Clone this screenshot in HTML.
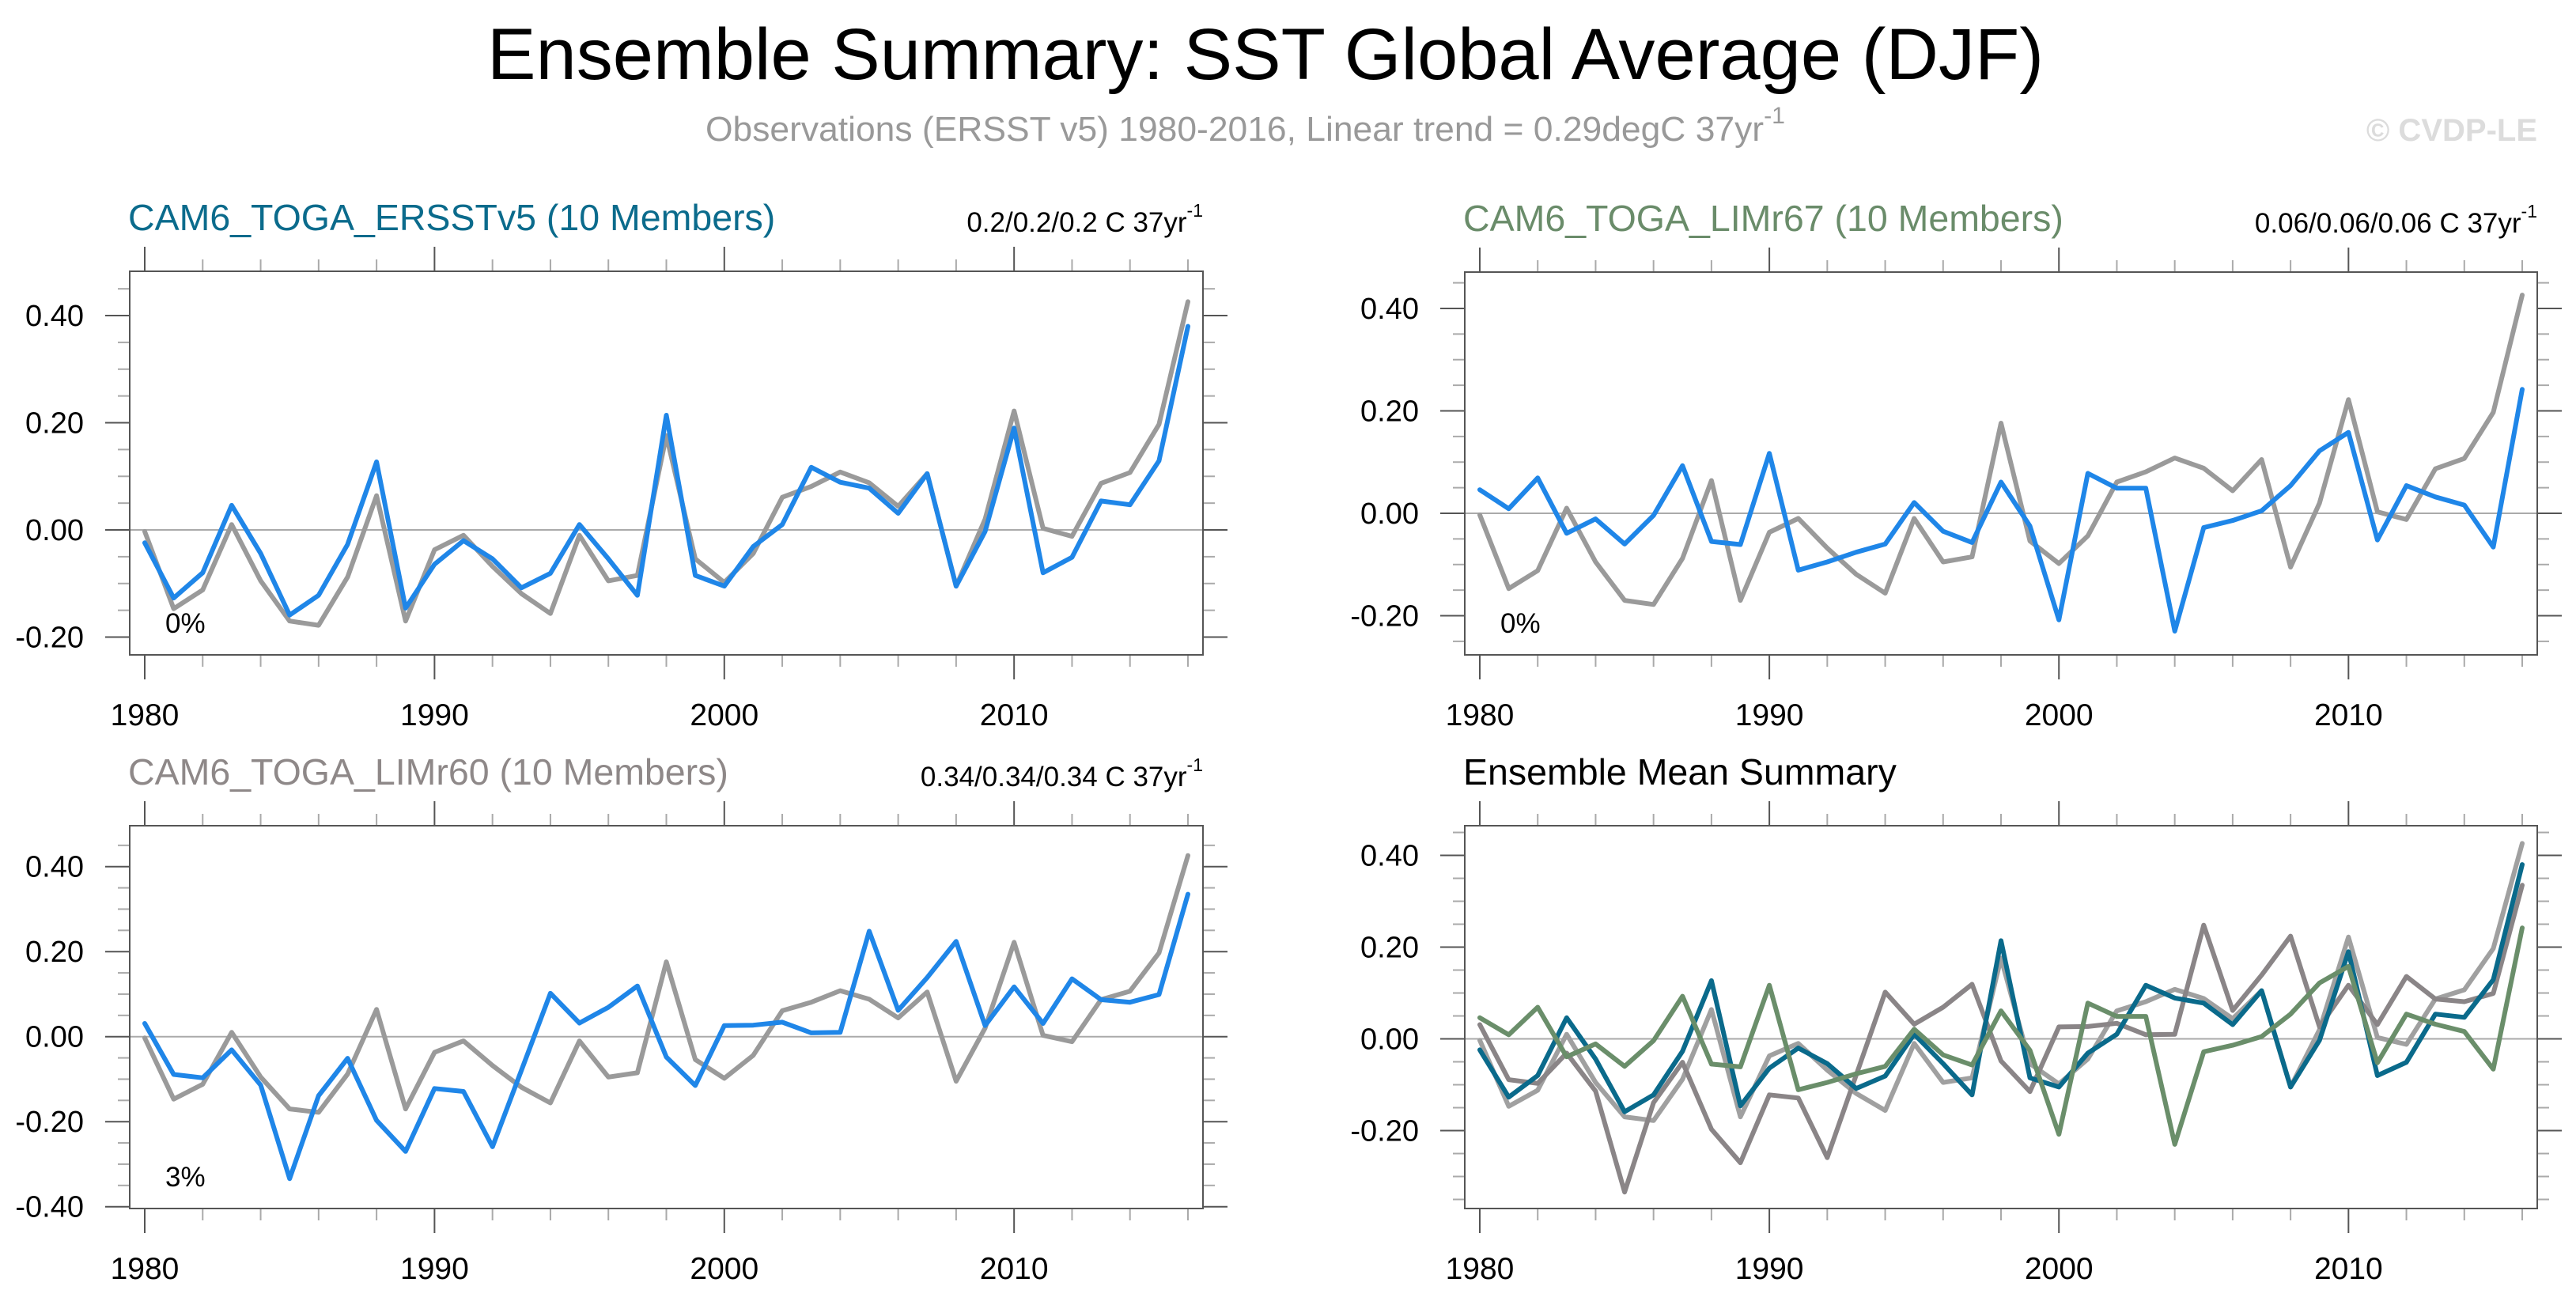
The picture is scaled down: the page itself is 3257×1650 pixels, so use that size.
<!DOCTYPE html>
<html><head><meta charset="utf-8"><title>Ensemble Summary: SST Global Average (DJF)</title>
<style>
html,body{margin:0;padding:0;background:#fff;}
svg{display:block;font-family:"Liberation Sans",sans-serif;}
</style></head>
<body>
<svg id="chart" xmlns="http://www.w3.org/2000/svg" width="3257" height="1650" viewBox="0 0 3257 1650">
  <text x="1600" y="100" font-size="92" text-anchor="middle" fill="#000" textLength="1968" lengthAdjust="spacingAndGlyphs">Ensemble Summary: SST Global Average (DJF)</text>
  <text x="892" y="178" font-size="44" fill="#999" textLength="1365" lengthAdjust="spacingAndGlyphs">Observations (ERSST v5) 1980-2016, Linear trend = 0.29degC 37yr<tspan font-size="30" dy="-22">-1</tspan></text>
  <text x="3208" y="178" font-size="40" font-weight="bold" text-anchor="end" fill="#dcdcdc">© CVDP-LE</text>
</svg>
<script>
const years = [];
for (let y = 1980; y <= 2016; y++) years.push(y);
const obsValues = [-0.003,-0.147,-0.112,0.010,-0.095,-0.170,-0.178,-0.088,0.064,-0.170,-0.037,-0.010,-0.068,-0.119,-0.156,-0.010,-0.095,-0.085,0.176,-0.054,-0.098,-0.044,0.061,0.081,0.108,0.088,0.044,0.105,-0.105,0.020,0.222,0.003,-0.012,0.087,0.107,0.197,0.426];
const erssValues = [-0.024,-0.127,-0.080,0.046,-0.044,-0.159,-0.122,-0.027,0.127,-0.146,-0.064,-0.020,-0.054,-0.108,-0.081,0.010,-0.054,-0.122,0.214,-0.085,-0.105,-0.031,0.010,0.117,0.089,0.078,0.031,0.105,-0.105,-0.003,0.190,-0.080,-0.051,0.054,0.047,0.129,0.380];
const lim67Values = [0.046,0.009,0.069,-0.039,-0.011,-0.060,-0.004,0.093,-0.055,-0.061,0.117,-0.111,-0.095,-0.076,-0.060,0.021,-0.035,-0.057,0.061,-0.025,-0.208,0.078,0.049,0.049,-0.230,-0.028,-0.014,0.005,0.054,0.122,0.158,-0.052,0.054,0.032,0.016,-0.066,0.242];
const lim60Values = [0.031,-0.089,-0.097,-0.031,-0.114,-0.334,-0.139,-0.051,-0.197,-0.270,-0.122,-0.129,-0.259,-0.079,0.102,0.032,0.069,0.119,-0.048,-0.115,0.026,0.027,0.034,0.009,0.010,0.248,0.062,0.139,0.224,0.026,0.117,0.031,0.136,0.087,0.081,0.099,0.335];
const yearTickLabels = ["1980","1990","2000","2010"];
const yTickLabels = ["-0.40","-0.20","0.00","0.20","0.40"];

const NS = "http://www.w3.org/2000/svg";
const svg = document.getElementById("chart");
function mk(tag, attrs, parent) {
  const e = document.createElementNS(NS, tag);
  for (const k in attrs) e.setAttribute(k, attrs[k]);
  (parent || svg).appendChild(e);
  return e;
}

const panels = [
  {key:"erss", L:164, R:1521, T:343, B:828, ymin:-0.2332, ymax:0.4827, title:"CAM6_TOGA_ERSSTv5 (10 Members)", tcol:"#0b6b8c", trend:"0.2/0.2/0.2 C 37yr", pct:"0%", series:[["obs",obsValues,"#9a9a9a"],["model",erssValues,"#1f86e8"]]},
  {key:"lim67", L:1852, R:3208, T:344, B:828, ymin:-0.2764, ymax:0.471, title:"CAM6_TOGA_LIMr67 (10 Members)", tcol:"#6a8c6a", trend:"0.06/0.06/0.06 C 37yr", pct:"0%", series:[["obs",obsValues,"#9a9a9a"],["model",lim67Values,"#1f86e8"]]},
  {key:"lim60", L:164, R:1521, T:1044, B:1528, ymin:-0.4043, ymax:0.4962, title:"CAM6_TOGA_LIMr60 (10 Members)", tcol:"#8e8888", trend:"0.34/0.34/0.34 C 37yr", pct:"3%", series:[["obs",obsValues,"#9a9a9a"],["model",lim60Values,"#1f86e8"]]},
  {key:"mean", L:1852, R:3208, T:1044, B:1528, ymin:-0.3698, ymax:0.4647, title:"Ensemble Mean Summary", tcol:"#000", trend:null, pct:null, series:[["obs",obsValues,"#a0a0a0"],["lim60",lim60Values,"#8a8587"],["erss",erssValues,"#0a6a8b"],["lim67",lim67Values,"#6a8e6a"]]}
];

panels.forEach(p => {
  const g = mk("g", {});
  
  
  const x0 = p.L + 19, x1 = p.R - 19;
  const xs = yr => x0 + (yr - 1980) * (x1 - x0) / 36;
  const ys = v => p.B - (v - p.ymin) * (p.B - p.T) / (p.ymax - p.ymin);

  const t = mk("text", {x:p.L - 2, y:p.T - 52, "font-size":46.5, fill:p.tcol}, g);
  t.textContent = p.title;
  
  
  if (p.trend) {
    const tr = mk("text", {x:p.R, y:p.T - 50, "font-size":35, fill:"#000", "text-anchor":"end"}, g);
    tr.textContent = p.trend;
    const sup = mk("tspan", {"font-size":23, dy:-19}, tr);
    sup.textContent = "-1";
    
    
  }

  for (let k = -20; k <= 20; k++) {
    const v = k * 0.05;
    if (v < p.ymin - 1e-6 || v > p.ymax + 1e-6) continue;
    const major = k % 4 === 0;
    const len = major ? 31 : 15;
    const y = ys(v);
    const col = major ? "#555" : "#aaa";
    const tl = mk("line", {x1:p.L - len, x2:p.L, y1:y, y2:y, stroke:col, "stroke-width":2}, g);
    
    
    const tr2 = mk("line", {x1:p.R, x2:p.R + len, y1:y, y2:y, stroke:col, "stroke-width":2}, g);
    
    
    if (major) {
      const idx = k / 4 + 2;
      const lb = mk("text", {x:p.L - 58, y:y + 13, "font-size":38, "text-anchor":"end", fill:"#000"}, g);
      lb.textContent = yTickLabels[idx];
      
      
    }
  }
  for (let yr = 1980; yr <= 2016; yr += 2) {
    const major = (yr % 10 === 0);
    const len = major ? 31 : 15;
    const x = xs(yr);
    const col = major ? "#555" : "#aaa";
    const a = mk("line", {x1:x, x2:x, y1:p.T - len, y2:p.T, stroke:col, "stroke-width":2}, g);
    
    
    const b = mk("line", {x1:x, x2:x, y1:p.B, y2:p.B + len, stroke:col, "stroke-width":2}, g);
    
    
    if (major) {
      const lb = mk("text", {x:x, y:p.B + 89, "font-size":39, "text-anchor":"middle", fill:"#000"}, g);
      lb.textContent = yearTickLabels[(yr - 1980) / 10];
      
      
    }
  }
  const z = mk("line", {x1:p.L, x2:p.R, y1:ys(0), y2:ys(0), stroke:"#aaa", "stroke-width":2}, g);
  
  

  p.series.forEach(s => {
    const pts = s[1].map((v, i) => xs(years[i]).toFixed(1) + "," + ys(v).toFixed(1)).join(" ");
    const pl = mk("polyline", {points:pts, fill:"none", stroke:s[2], "stroke-width":6, "stroke-linejoin":"round", "stroke-linecap":"round"}, g);
    
    
  });

  const f = mk("rect", {x:p.L, y:p.T, width:p.R - p.L, height:p.B - p.T, fill:"none", stroke:"#555", "stroke-width":2}, g);
  
  

  if (p.pct) {
    const pc = mk("text", {x:p.L + 45, y:p.B - 28, "font-size":35, fill:"#000"}, g);
    pc.textContent = p.pct;
    
    
  }
});
</script>
</body></html>
